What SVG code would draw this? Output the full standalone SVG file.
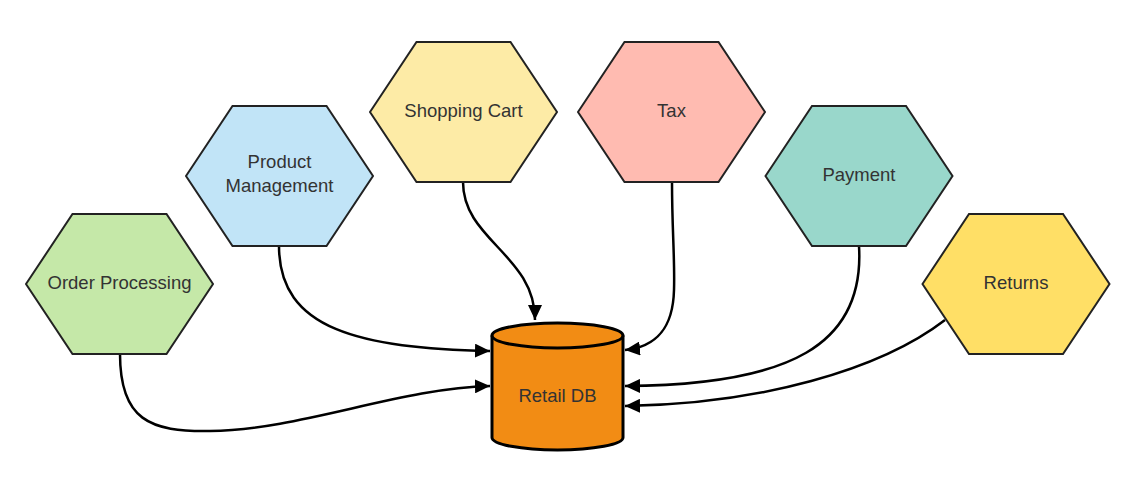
<svg xmlns="http://www.w3.org/2000/svg" width="1137" height="483" viewBox="0 0 1137 483">
<style>
.hex{stroke:#222;stroke-width:2;stroke-linejoin:miter}
.lbl{font-family:"Liberation Sans",Arial,sans-serif;font-size:18.5px;fill:#333;text-anchor:middle}
.conn{fill:none;stroke:#000;stroke-width:2.5}
</style>
<defs>
<polygon id="hexShape" points="-93.5,0 -47,-70 47,-70 93.5,0 47,70 -47,70"/>
<marker id="arrow" markerUnits="userSpaceOnUse" markerWidth="16" markerHeight="14" refX="15" refY="7" orient="auto">
<path d="M0,0 L15,7 L0,14 Z" fill="#000"/>
</marker>
</defs>
<rect width="1137" height="483" fill="#fff"/>
<g id="connectors">
<path class="conn" marker-end="url(#arrow)" d="M120,354 C120,420 150,432 210,431 C300,430 400,388 490,386"/>
<path class="conn" marker-end="url(#arrow)" d="M279,246 C279,330 360,348 490,351"/>
<path class="conn" marker-end="url(#arrow)" d="M463,182 C463,240 535,255 535,320"/>
<path class="conn" marker-end="url(#arrow)" d="M672,182 C672,230 675,260 674,290 C673,330 655,347 625,350"/>
<path class="conn" marker-end="url(#arrow)" d="M859,246 C865,345 790,385 625,386"/>
<path class="conn" marker-end="url(#arrow)" d="M945,320 C880,370 760,404 625,406"/>
</g>
<g id="order-processing">
<use href="#hexShape" x="119.5" y="284" class="hex" fill="#c5e8a8"/>
<text class="lbl" x="119.5" y="289">Order Processing</text>
</g>
<g id="product-management">
<use href="#hexShape" x="279.5" y="176" class="hex" fill="#c1e4f7"/>
<text class="lbl" x="279.5" y="168">Product</text>
<text class="lbl" x="279.5" y="192">Management</text>
</g>
<g id="shopping-cart">
<use href="#hexShape" x="463.5" y="112" class="hex" fill="#fdeba6"/>
<text class="lbl" x="463.5" y="117">Shopping Cart</text>
</g>
<g id="tax">
<use href="#hexShape" x="671.5" y="112" class="hex" fill="#ffbbb1"/>
<text class="lbl" x="671.5" y="117">Tax</text>
</g>
<g id="payment">
<use href="#hexShape" x="859" y="176" class="hex" fill="#99d7cb"/>
<text class="lbl" x="859" y="181">Payment</text>
</g>
<g id="returns">
<use href="#hexShape" x="1016" y="284" class="hex" fill="#ffdf66"/>
<text class="lbl" x="1016" y="289">Returns</text>
</g>
<g id="retail-db">
<path d="M492,335.5 A65.5,12.5 0 0 1 623,335.5 L623,437.5 A65.5,12.5 0 0 1 492,437.5 Z" fill="#f28c14" stroke="#000" stroke-width="3"/>
<path d="M492,335.5 A65.5,12.5 0 0 0 623,335.5" fill="none" stroke="#000" stroke-width="3"/>
<text class="lbl" x="557.5" y="402">Retail DB</text>
</g>
</svg>
